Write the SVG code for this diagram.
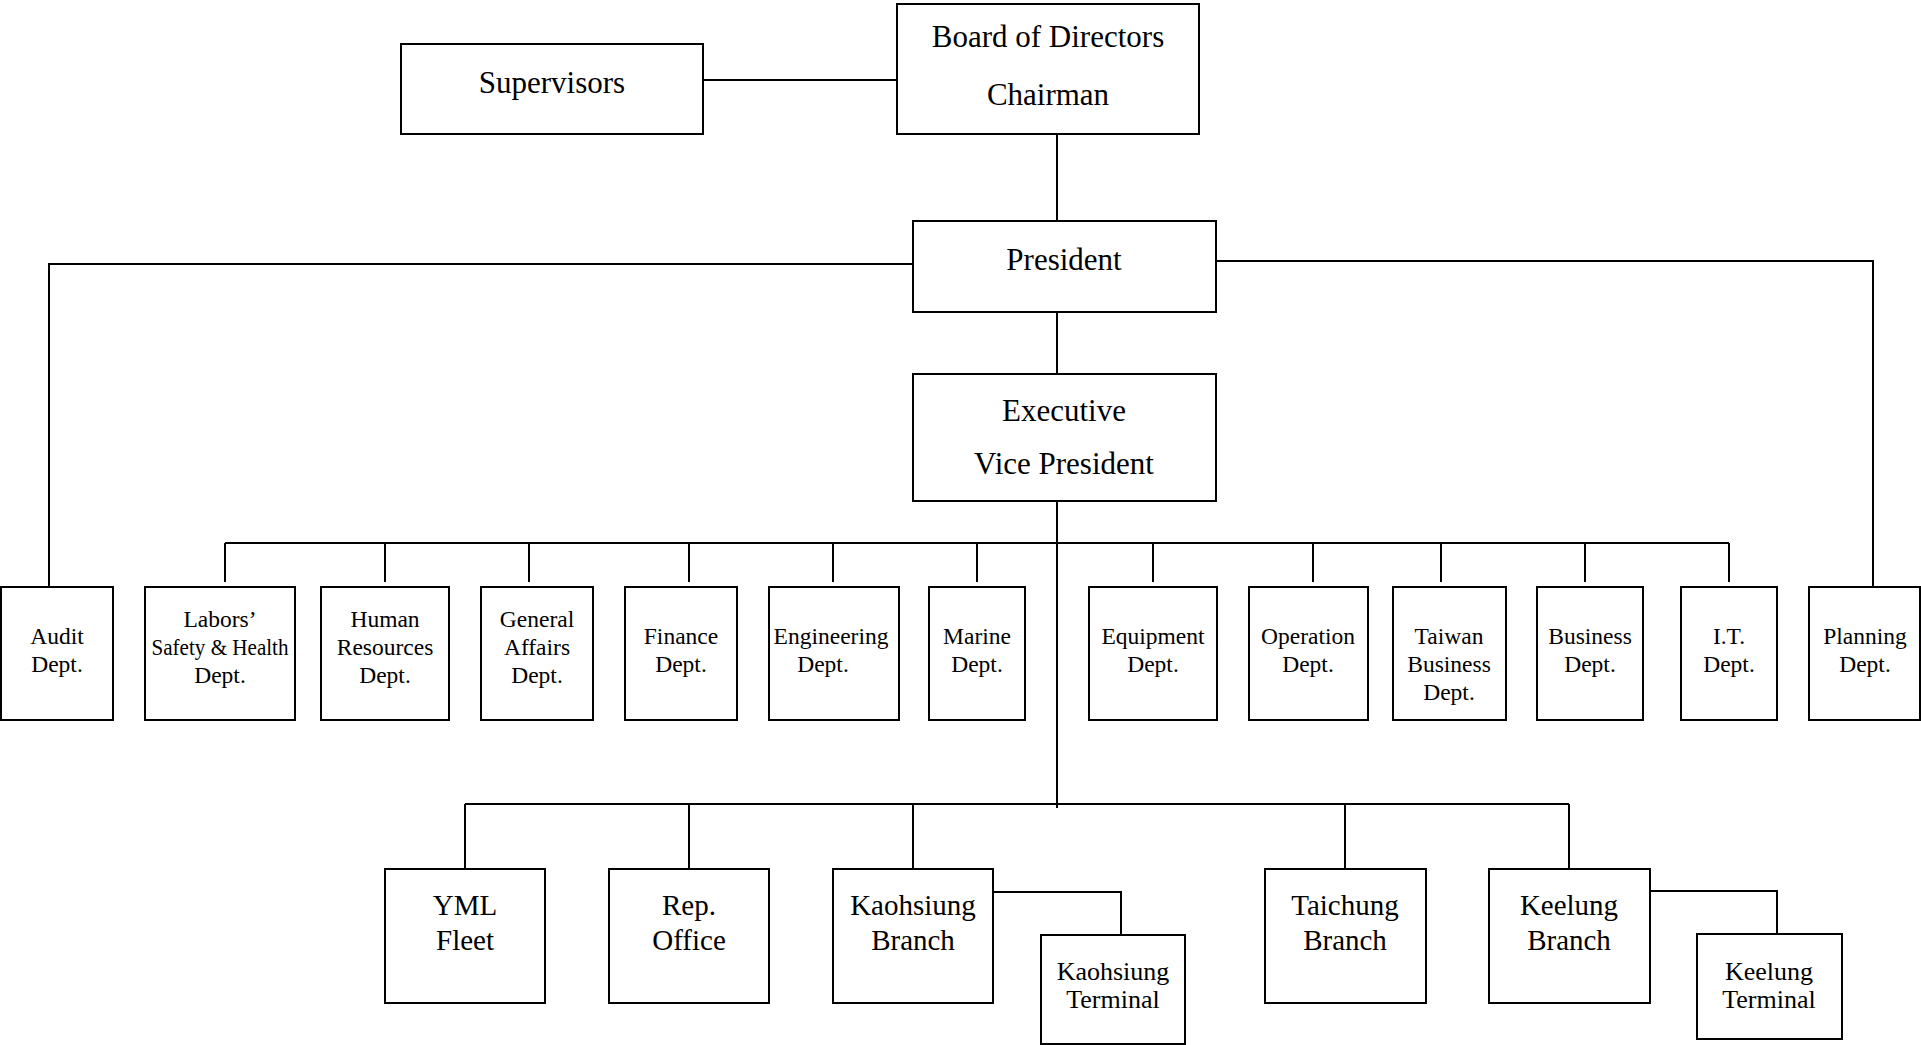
<svg xmlns="http://www.w3.org/2000/svg" width="1921" height="1045" viewBox="0 0 1921 1045">
<style>
.box{fill:#fff;stroke:#000;stroke-width:2}
.ln{fill:none;stroke:#000;stroke-width:2}
text{font-family:"Liberation Serif","Times New Roman",serif;fill:#000;text-anchor:middle}
.big{font-size:31px}
.dep{font-size:23.5px}
.br{font-size:29px}
.tm{font-size:26px}
</style>
<rect width="1921" height="1045" fill="#fff"/>
<g id="connectors">
<path class="ln" d="M703 80H897"/>
<path class="ln" d="M1057 134V221"/>
<path class="ln" d="M913 264H49V587"/>
<path class="ln" d="M1216 261H1873V587"/>
<path class="ln" d="M1057 307V374"/>
<path class="ln" d="M1057 501V808"/>
<path class="ln" d="M225 543H1729"/>
<path class="ln" d="M225 543V582M385 543V582M529 543V582M689 543V582M833 543V582M977 543V582M1153 543V582M1313 543V582M1441 543V582M1585 543V582M1729 543V582"/>
<path class="ln" d="M465 804H1569"/>
<path class="ln" d="M465 804V869M689 804V869M913 804V869M1345 804V869M1569 804V869"/>
<path class="ln" d="M993 892H1121V935"/>
<path class="ln" d="M1650 891H1777V934"/>
</g>
<g id="supervisors"><rect class="box" x="401" y="44" width="302" height="90"/><text class="big" x="552" y="93">Supervisors</text></g>
<g id="board"><rect class="box" x="897" y="4" width="302" height="130"/><text class="big" x="1048" y="47">Board of Directors</text><text class="big" x="1048" y="105">Chairman</text></g>
<g id="president"><rect class="box" x="913" y="221" width="303" height="91"/><text class="big" x="1064" y="270">President</text></g>
<g id="evp"><rect class="box" x="913" y="374" width="303" height="127"/><text class="big" x="1064" y="421">Executive</text><text class="big" x="1064" y="474">Vice President</text></g>
<g id="audit"><rect class="box" x="1" y="587" width="112" height="133"/><text class="dep" x="57" y="644">Audit</text><text class="dep" x="57" y="672">Dept.</text></g>
<g id="labors"><rect class="box" x="145" y="587" width="150" height="133"/><text class="dep" x="220" y="627">Labors’</text><text class="dep" x="220" y="655" textLength="137" lengthAdjust="spacingAndGlyphs">Safety &amp; Health</text><text class="dep" x="220" y="683">Dept.</text></g>
<g id="hr"><rect class="box" x="321" y="587" width="128" height="133"/><text class="dep" x="385" y="627">Human</text><text class="dep" x="385" y="655">Resources</text><text class="dep" x="385" y="683">Dept.</text></g>
<g id="ga"><rect class="box" x="481" y="587" width="112" height="133"/><text class="dep" x="537" y="627">General</text><text class="dep" x="537" y="655">Affairs</text><text class="dep" x="537" y="683">Dept.</text></g>
<g id="finance"><rect class="box" x="625" y="587" width="112" height="133"/><text class="dep" x="681" y="644">Finance</text><text class="dep" x="681" y="672">Dept.</text></g>
<g id="engineering"><rect class="box" x="769" y="587" width="130" height="133"/><text class="dep" x="831" y="644">Engineering</text><text class="dep" x="823" y="672">Dept.</text></g>
<g id="marine"><rect class="box" x="929" y="587" width="96" height="133"/><text class="dep" x="977" y="644">Marine</text><text class="dep" x="977" y="672">Dept.</text></g>
<g id="equipment"><rect class="box" x="1089" y="587" width="128" height="133"/><text class="dep" x="1153" y="644">Equipment</text><text class="dep" x="1153" y="672">Dept.</text></g>
<g id="operation"><rect class="box" x="1249" y="587" width="119" height="133"/><text class="dep" x="1308" y="644">Operation</text><text class="dep" x="1308" y="672">Dept.</text></g>
<g id="taiwan"><rect class="box" x="1393" y="587" width="113" height="133"/><text class="dep" x="1449" y="644">Taiwan</text><text class="dep" x="1449" y="672">Business</text><text class="dep" x="1449" y="700">Dept.</text></g>
<g id="business"><rect class="box" x="1537" y="587" width="106" height="133"/><text class="dep" x="1590" y="644">Business</text><text class="dep" x="1590" y="672">Dept.</text></g>
<g id="it"><rect class="box" x="1681" y="587" width="96" height="133"/><text class="dep" x="1729" y="644">I.T.</text><text class="dep" x="1729" y="672">Dept.</text></g>
<g id="planning"><rect class="box" x="1809" y="587" width="111" height="133"/><text class="dep" x="1865" y="644">Planning</text><text class="dep" x="1865" y="672">Dept.</text></g>
<g id="yml"><rect class="box" x="385" y="869" width="160" height="134"/><text class="br" x="465" y="915">YML</text><text class="br" x="465" y="950">Fleet</text></g>
<g id="rep"><rect class="box" x="609" y="869" width="160" height="134"/><text class="br" x="689" y="915">Rep.</text><text class="br" x="689" y="950">Office</text></g>
<g id="kaohsiung-branch"><rect class="box" x="833" y="869" width="160" height="134"/><text class="br" x="913" y="915">Kaohsiung</text><text class="br" x="913" y="950">Branch</text></g>
<g id="taichung"><rect class="box" x="1265" y="869" width="161" height="134"/><text class="br" x="1345" y="915">Taichung</text><text class="br" x="1345" y="950">Branch</text></g>
<g id="keelung-branch"><rect class="box" x="1489" y="869" width="161" height="134"/><text class="br" x="1569" y="915">Keelung</text><text class="br" x="1569" y="950">Branch</text></g>
<g id="kaohsiung-terminal"><rect class="box" x="1041" y="935" width="144" height="109"/><text class="tm" x="1113" y="980">Kaohsiung</text><text class="tm" x="1113" y="1008">Terminal</text></g>
<g id="keelung-terminal"><rect class="box" x="1697" y="934" width="145" height="105"/><text class="tm" x="1769" y="980">Keelung</text><text class="tm" x="1769" y="1008">Terminal</text></g>
</svg>
